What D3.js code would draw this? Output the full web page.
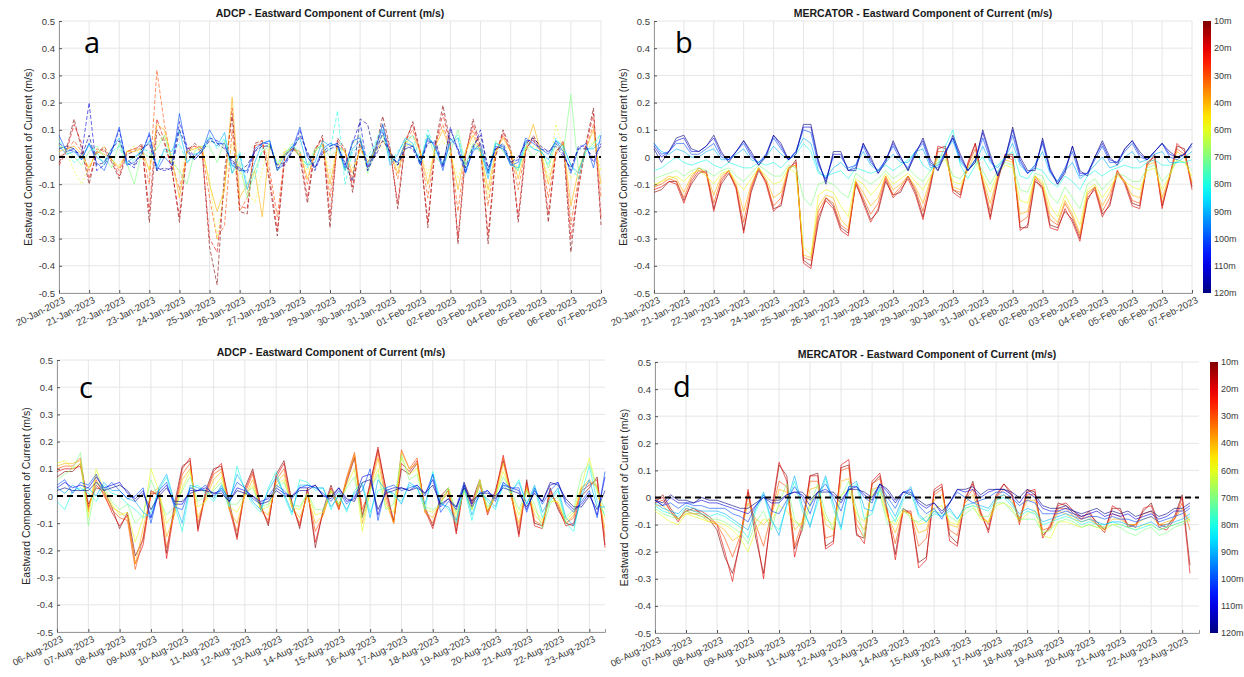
<!DOCTYPE html>
<html>
<head>
<meta charset="utf-8">
<script src="https://cdn.jsdelivr.net/npm/d3@7"></script>
<style>
  body { margin: 0; background: #fff; }
  text { font-family: "Liberation Sans", Arial, Helvetica, sans-serif; }
</style>
</head>
<body>
<svg id="chart" width="1244" height="677"></svg>
<script>
// depth of each series (10m at the top of the colour bar)
var depths = ["10m","20m","30m","40m","60m","70m","80m","90m","100m","110m","120m"];
var yTickValues = [-0.5,-0.4,-0.3,-0.2,-0.1,0,0.1,0.2,0.3,0.4,0.5];
var yTickLabels = ["-0.5","-0.4","-0.3","-0.2","-0.1","0","0.1","0.2","0.3","0.4","0.5"];

// 6-hourly samples, one row = one day
// ---- ADCP, January 2023 ----
var adcpJan10 = [-0.02,0.03,0.14,0.03,  -0.10,0.02,0.03,-0.02,  -0.08,0.01,0.02,0.05,  -0.24,0.10,0.05,-0.04,  -0.24,0.02,0.05,0.03,  -0.33,-0.47,-0.05,0.15,  -0.20,-0.21,0.05,0.06,  -0.10,-0.29,0.00,0.04,  0.00,-0.17,0.02,0.08,  -0.26,0.07,0.03,-0.13,  0.06,-0.05,0.02,0.15,  0.03,-0.19,0.05,0.13,  0.02,-0.26,0.05,0.19,  0.05,-0.32,0.00,0.14,  0.04,-0.32,0.00,0.10,  0.03,-0.24,0.02,0.08,  0.03,-0.24,0.02,0.05,  -0.35,-0.10,0.05,0.18,  -0.25];
var adcpJan20 = [-0.03,0.02,0.12,0.05,  -0.08,0.01,0.04,-0.01,  -0.07,0.02,0.03,0.04,  -0.20,0.14,0.06,-0.05,  -0.22,0.03,0.04,0.02,  -0.30,-0.35,-0.10,0.18,  -0.18,-0.19,0.04,0.05,  -0.08,-0.27,0.01,0.03,  0.01,-0.15,0.03,0.07,  -0.22,0.06,0.02,-0.11,  0.05,-0.04,0.03,0.12,  0.02,-0.17,0.06,0.12,  0.01,-0.24,0.04,0.16,  0.04,-0.30,0.01,0.12,  0.03,-0.29,0.01,0.09,  0.02,-0.22,0.03,0.07,  0.02,-0.21,0.01,0.06,  -0.30,-0.12,0.04,0.16,  -0.22];
var adcpJan30 = [0.00,0.02,0.06,0.02,  -0.05,0.03,0.02,-0.01,  -0.05,0.02,0.03,0.03,  -0.10,0.32,0.12,-0.02,  -0.12,0.02,0.04,0.03,  -0.15,-0.30,-0.25,0.10,  -0.20,-0.15,0.04,0.06,  -0.05,-0.22,0.01,0.03,  0.02,-0.10,0.03,0.06,  -0.15,0.05,0.02,-0.08,  0.04,-0.02,0.03,0.08,  0.02,-0.08,0.06,0.10,  0.02,-0.15,0.05,0.12,  0.03,-0.20,0.02,0.10,  0.02,-0.18,0.02,0.08,  0.02,-0.12,0.03,0.06,  0.02,-0.15,0.02,0.05,  -0.25,-0.08,0.03,0.12,  -0.15];
var adcpJan40 = [0.02,0.03,0.04,0.01,  -0.04,0.02,0.01,-0.01,  -0.04,0.02,0.02,0.03,  -0.05,0.12,0.10,-0.01,  -0.15,0.02,0.03,0.04,  -0.10,-0.20,-0.12,0.22,  -0.15,-0.10,-0.05,-0.22,  0.05,-0.05,0.02,0.03,  0.02,-0.08,0.02,0.05,  -0.10,0.04,0.02,-0.06,  0.03,-0.02,0.02,0.06,  0.02,-0.06,0.05,0.08,  0.02,-0.10,0.04,0.10,  0.02,-0.12,0.02,0.08,  0.02,-0.12,0.02,0.07,  0.02,-0.08,0.03,0.12,  0.02,-0.10,0.02,0.05,  -0.18,-0.05,0.03,0.10,  -0.10];
var adcpJan60 = [0.05,0.02,-0.05,-0.10,  -0.03,0.01,0.04,-0.01,  -0.03,0.02,0.04,0.00,  -0.04,0.05,0.08,0.00,  -0.06,0.02,0.03,0.02,  -0.08,-0.30,-0.10,0.05,  -0.05,-0.12,-0.17,-0.05,  0.05,-0.03,0.03,0.02,  0.01,-0.05,0.02,0.04,  -0.06,0.03,0.02,-0.04,  0.02,-0.01,0.02,0.04,  0.01,-0.04,0.04,0.05,  0.02,-0.06,0.03,0.06,  0.01,-0.08,0.02,0.06,  0.01,-0.15,0.02,0.05,  0.02,-0.05,0.03,0.04,  0.03,-0.08,0.12,0.03,  -0.08,-0.04,0.02,0.06,  -0.05];
var adcpJan70 = [0.04,0.03,0.00,-0.03,  0.02,0.04,0.00,-0.04,  0.05,-0.02,-0.10,0.02,  0.00,0.03,0.08,-0.02,  -0.05,-0.10,0.02,0.04,  0.04,-0.02,0.06,-0.06,  -0.02,-0.15,-0.05,0.02,  0.04,-0.02,0.01,0.05,  0.00,-0.03,0.03,0.04,  0.00,0.03,-0.05,0.05,  0.08,-0.06,0.03,0.08,  0.00,-0.02,0.06,0.04,  -0.02,0.08,0.00,-0.03,  0.02,0.10,-0.03,0.05,  0.03,-0.06,0.06,0.02,  -0.02,-0.05,0.04,0.00,  0.03,-0.04,0.05,0.02,  0.23,-0.05,0.02,0.05,  0.08];
var adcpJan80 = [0.06,0.02,-0.02,0.00,  0.04,0.02,-0.03,0.02,  0.04,-0.03,-0.01,0.03,  0.02,-0.03,0.02,0.01,  0.05,-0.02,0.00,0.03,  0.08,0.03,0.07,-0.04,  0.02,-0.10,-0.08,0.03,  0.05,-0.03,0.01,0.04,  0.02,-0.04,0.02,0.05,  0.02,0.17,-0.10,0.02,  0.04,0.00,0.05,0.12,  -0.02,0.02,0.06,0.08,  -0.02,0.10,0.02,-0.02,  0.06,0.08,-0.04,0.04,  0.02,-0.06,0.05,0.03,  -0.02,-0.05,0.05,0.03,  0.02,-0.03,0.07,0.03,  -0.03,-0.08,0.02,0.04,  0.09];
var adcpJan90 = [0.04,0.01,0.02,-0.01,  0.05,0.00,-0.02,0.03,  0.07,-0.02,0.00,0.02,  0.06,-0.04,0.03,0.02,  0.10,-0.02,0.01,0.02,  0.07,0.04,0.09,-0.06,  0.01,-0.12,-0.02,0.05,  0.06,-0.05,0.00,0.04,  0.07,-0.03,-0.02,0.06,  0.04,0.05,-0.05,0.03,  0.06,-0.03,0.04,0.10,  -0.03,0.01,0.07,0.05,  -0.03,0.08,0.03,-0.03,  0.05,0.07,-0.06,0.03,  0.03,-0.08,0.05,0.04,  -0.03,-0.04,0.06,0.03,  0.02,-0.01,0.06,0.04,  -0.03,-0.06,0.03,0.03,  0.06];
var adcpJan100 = [0.08,0.02,0.03,-0.01,  0.05,-0.02,-0.05,0.02,  0.11,-0.03,-0.02,0.01,  0.09,-0.05,0.00,-0.03,  0.16,0.02,-0.01,0.02,  0.10,0.05,0.05,-0.03,  -0.05,-0.05,0.03,0.05,  0.06,-0.05,-0.02,0.03,  0.11,0.00,-0.04,0.03,  0.05,0.04,-0.04,0.06,  0.07,-0.04,0.02,0.12,  0.00,-0.02,0.05,0.04,  -0.02,0.07,0.04,-0.05,  0.07,0.03,-0.05,0.02,  0.05,-0.06,0.04,0.03,  -0.03,-0.02,0.07,0.05,  0.03,0.01,0.06,0.02,  -0.06,0.03,0.05,-0.04,  0.08];
var adcpJan110 = [0.05,0.03,0.02,0.01,  0.20,-0.05,-0.03,0.02,  0.10,-0.02,-0.04,0.02,  0.08,-0.04,-0.05,-0.04,  0.13,0.04,0.00,0.03,  0.07,0.06,0.04,-0.02,  -0.04,-0.06,0.02,0.05,  0.05,-0.04,-0.03,0.02,  0.10,0.01,-0.05,0.02,  0.04,0.05,-0.03,0.05,  0.13,-0.05,0.01,0.09,  0.01,-0.03,0.04,0.03,  -0.03,0.06,0.05,-0.04,  0.11,0.02,-0.06,0.03,  0.10,-0.05,0.03,0.05,  -0.02,-0.01,0.06,0.06,  0.03,0.02,0.05,0.01,  -0.05,0.04,0.04,-0.02,  0.05];
var adcpJan120 = [0.03,0.04,0.03,0.00,  0.08,-0.03,-0.02,0.03,  0.06,-0.01,-0.03,0.03,  0.05,-0.05,-0.04,-0.05,  0.10,0.03,-0.01,0.02,  0.06,0.05,0.03,-0.01,  -0.05,-0.03,0.02,0.04,  0.04,-0.03,-0.02,0.02,  0.08,0.02,-0.04,0.01,  0.03,0.04,-0.02,-0.09,  0.14,0.12,0.00,0.06,  0.02,-0.03,0.03,0.04,  -0.02,0.05,0.06,-0.03,  0.10,0.03,-0.04,0.04,  0.08,-0.04,0.03,0.04,  -0.02,0.00,0.05,0.07,  0.04,0.02,0.04,0.00,  -0.04,0.03,0.03,0.00,  0.04];

// ---- MERCATOR, January 2023 ----
var merJan10 = [-0.13,-0.12,-0.09,-0.09,  -0.16,-0.10,-0.06,-0.05,  -0.19,-0.10,-0.06,-0.11,  -0.27,-0.13,-0.05,-0.09,  -0.19,-0.18,-0.05,-0.01,  -0.38,-0.40,-0.24,-0.15,  -0.18,-0.26,-0.28,-0.10,  -0.16,-0.23,-0.20,-0.09,  -0.14,-0.13,-0.07,-0.13,  -0.22,-0.11,0.03,0.04,  -0.12,-0.14,-0.03,0.05,  -0.09,-0.22,-0.09,0.01,  0.01,-0.26,-0.26,-0.09,  -0.11,-0.25,-0.26,-0.20,  -0.23,-0.30,-0.16,-0.11,  -0.21,-0.18,-0.06,-0.09,  -0.17,-0.18,-0.03,0.01,  -0.18,-0.08,0.04,0.03,  -0.11];
var merJan20 = [-0.12,-0.11,-0.09,-0.10,  -0.17,-0.09,-0.05,-0.06,  -0.20,-0.09,-0.05,-0.12,  -0.28,-0.12,-0.04,-0.10,  -0.20,-0.17,-0.04,-0.02,  -0.39,-0.41,-0.22,-0.16,  -0.19,-0.27,-0.29,-0.09,  -0.17,-0.24,-0.19,-0.08,  -0.15,-0.12,-0.08,-0.14,  -0.23,-0.10,0.04,0.03,  -0.13,-0.15,-0.02,0.05,  -0.10,-0.23,-0.08,0.01,  0.00,-0.27,-0.25,-0.08,  -0.12,-0.26,-0.27,-0.19,  -0.24,-0.31,-0.15,-0.12,  -0.22,-0.17,-0.05,-0.10,  -0.18,-0.19,-0.02,0.00,  -0.19,-0.07,0.05,0.02,  -0.12];
var merJan30 = [-0.11,-0.10,-0.08,-0.09,  -0.15,-0.08,-0.04,-0.06,  -0.17,-0.08,-0.05,-0.11,  -0.24,-0.11,-0.04,-0.09,  -0.18,-0.15,-0.04,-0.03,  -0.37,-0.38,-0.20,-0.15,  -0.17,-0.25,-0.27,-0.09,  -0.15,-0.21,-0.17,-0.07,  -0.14,-0.11,-0.07,-0.12,  -0.20,-0.09,0.02,0.02,  -0.12,-0.13,-0.03,0.03,  -0.09,-0.20,-0.07,0.00,  -0.01,-0.24,-0.22,-0.07,  -0.11,-0.23,-0.25,-0.17,  -0.22,-0.29,-0.14,-0.11,  -0.20,-0.15,-0.05,-0.09,  -0.16,-0.17,-0.02,-0.01,  -0.17,-0.07,0.03,0.01,  -0.10];
var merJan40 = [-0.11,-0.09,-0.07,-0.08,  -0.13,-0.07,-0.04,-0.06,  -0.14,-0.07,-0.05,-0.10,  -0.20,-0.10,-0.04,-0.08,  -0.15,-0.13,-0.04,-0.03,  -0.36,-0.37,-0.18,-0.14,  -0.15,-0.23,-0.26,-0.09,  -0.13,-0.18,-0.15,-0.07,  -0.12,-0.10,-0.07,-0.11,  -0.17,-0.08,0.00,0.01,  -0.11,-0.12,-0.04,0.01,  -0.08,-0.17,-0.07,-0.01,  -0.02,-0.21,-0.20,-0.07,  -0.10,-0.21,-0.24,-0.16,  -0.21,-0.28,-0.13,-0.11,  -0.18,-0.13,-0.06,-0.09,  -0.14,-0.15,-0.03,-0.02,  -0.15,-0.07,0.02,0.00,  -0.09];
var merJan60 = [-0.10,-0.09,-0.08,-0.07,  -0.09,-0.06,-0.05,-0.07,  -0.10,-0.06,-0.05,-0.09,  -0.12,-0.08,-0.04,-0.07,  -0.10,-0.09,-0.04,-0.06,  -0.33,-0.36,-0.14,-0.12,  -0.13,-0.18,-0.22,-0.08,  -0.10,-0.14,-0.11,-0.06,  -0.10,-0.08,-0.06,-0.09,  -0.12,-0.07,-0.02,-0.01,  -0.09,-0.10,-0.05,-0.02,  -0.07,-0.13,-0.06,-0.03,  -0.04,-0.16,-0.17,-0.07,  -0.09,-0.18,-0.22,-0.14,  -0.19,-0.25,-0.12,-0.10,  -0.15,-0.11,-0.07,-0.09,  -0.11,-0.12,-0.05,-0.04,  -0.12,-0.07,-0.01,-0.02,  -0.07];
var merJan70 = [-0.08,-0.07,-0.06,-0.05,  -0.07,-0.05,-0.04,-0.05,  -0.07,-0.05,-0.04,-0.07,  -0.09,-0.06,-0.03,-0.05,  -0.07,-0.07,-0.03,-0.04,  -0.15,-0.18,-0.10,-0.09,  -0.10,-0.13,-0.15,-0.06,  -0.08,-0.10,-0.08,-0.05,  -0.08,-0.06,-0.04,-0.07,  -0.09,-0.05,0.00,0.00,  -0.07,-0.08,-0.04,-0.01,  -0.05,-0.10,-0.05,-0.02,  -0.03,-0.12,-0.13,-0.06,  -0.07,-0.14,-0.17,-0.11,  -0.15,-0.19,-0.10,-0.08,  -0.12,-0.09,-0.06,-0.07,  -0.09,-0.09,-0.04,-0.03,  -0.09,-0.06,-0.01,-0.02,  -0.05];
var merJan80 = [-0.05,-0.04,-0.02,0.00,  -0.02,-0.03,-0.02,-0.01,  -0.03,-0.04,-0.02,-0.03,  -0.04,-0.04,-0.02,-0.03,  -0.02,-0.04,-0.01,0.01,  0.05,0.02,-0.06,-0.07,  -0.06,-0.05,-0.08,-0.04,  -0.05,-0.06,-0.05,-0.03,  -0.05,-0.03,-0.01,0.02,  -0.03,-0.05,-0.02,0.04,  0.10,-0.03,-0.08,-0.03,  0.00,-0.05,-0.03,0.00,  0.02,-0.07,-0.08,-0.04,  -0.05,-0.09,-0.11,-0.07,  -0.09,-0.12,-0.07,-0.05,  -0.07,-0.05,-0.04,-0.03,  -0.04,-0.04,-0.02,-0.01,  -0.03,-0.03,-0.02,-0.02,  -0.01];
var merJan90 = [0.05,0.02,0.01,0.03,  0.02,0.00,0.00,0.02,  0.03,-0.01,-0.01,0.01,  0.03,-0.01,-0.02,0.00,  0.04,0.01,-0.01,0.02,  0.07,0.05,-0.05,-0.08,  -0.04,-0.02,-0.05,-0.03,  0.02,-0.03,-0.05,-0.02,  0.01,-0.02,-0.02,0.02,  0.03,-0.04,-0.03,0.02,  0.06,-0.02,-0.05,-0.02,  0.04,-0.02,-0.04,0.00,  0.05,-0.03,-0.06,-0.03,  0.02,-0.06,-0.09,-0.05,  -0.02,-0.08,-0.06,-0.03,  0.00,-0.04,-0.03,0.00,  0.02,-0.02,-0.01,0.01,  0.02,-0.02,-0.02,0.00,  0.02];
var merJan100 = [0.05,0.01,0.02,0.05,  0.05,0.01,0.01,0.03,  0.05,0.00,-0.01,0.02,  0.05,0.00,-0.02,0.01,  0.07,0.03,-0.01,0.02,  0.10,0.09,-0.03,-0.08,  0.00,0.00,-0.04,-0.03,  0.04,-0.02,-0.05,-0.01,  0.04,-0.01,-0.04,0.02,  0.05,-0.03,-0.04,0.02,  0.07,-0.01,-0.05,-0.01,  0.07,-0.01,-0.06,0.00,  0.08,-0.02,-0.06,-0.03,  0.05,-0.05,-0.09,-0.04,  0.02,-0.07,-0.06,-0.01,  0.04,-0.02,-0.02,0.02,  0.05,0.00,-0.01,0.02,  0.05,0.00,-0.01,0.01,  0.04];
var merJan110 = [0.04,0.00,0.02,0.06,  0.07,0.02,0.02,0.04,  0.07,0.01,-0.01,0.02,  0.06,0.01,-0.03,0.01,  0.08,0.04,-0.01,0.02,  0.11,0.11,-0.02,-0.09,  0.01,0.01,-0.05,-0.04,  0.05,-0.01,-0.06,-0.01,  0.05,0.00,-0.05,0.02,  0.06,-0.02,-0.05,0.02,  0.07,0.00,-0.05,-0.01,  0.09,0.00,-0.07,0.00,  0.10,-0.01,-0.06,-0.04,  0.06,-0.05,-0.10,-0.05,  0.04,-0.06,-0.06,0.00,  0.05,-0.01,-0.02,0.03,  0.06,0.01,-0.01,0.02,  0.05,0.01,0.00,0.01,  0.05];
var merJan120 = [0.03,-0.02,0.02,0.07,  0.08,0.03,0.02,0.04,  0.08,0.02,-0.02,0.02,  0.06,0.02,-0.03,0.00,  0.08,0.05,-0.01,0.01,  0.12,0.12,-0.01,-0.10,  0.02,0.02,-0.05,-0.05,  0.05,0.00,-0.06,-0.02,  0.06,0.00,-0.05,0.01,  0.07,-0.01,-0.05,0.01,  0.08,0.01,-0.05,-0.02,  0.10,0.01,-0.07,-0.01,  0.11,0.00,-0.05,-0.05,  0.07,-0.04,-0.10,-0.06,  0.04,-0.05,-0.07,0.00,  0.06,0.00,-0.03,0.03,  0.06,0.02,-0.01,0.02,  0.05,0.02,0.00,0.01,  0.05];

// ---- ADCP, August 2023 ----
var adcpAug10 = [0.07,0.09,0.09,0.12,  -0.03,0.03,0.02,-0.04,  -0.12,-0.06,-0.22,-0.16,  0.02,0.00,-0.21,-0.03,  0.11,0.13,-0.12,0.02,  0.10,0.11,-0.02,-0.15,  0.03,0.10,-0.03,-0.11,  0.08,0.13,-0.02,-0.12,  0.03,-0.19,-0.05,0.04,  -0.04,0.05,0.14,-0.08,  0.05,0.17,0.03,-0.09,  0.10,0.08,0.12,-0.04,  -0.11,0.00,0.03,-0.13,  0.05,-0.02,0.06,-0.06,  0.02,0.13,0.02,-0.14,  0.06,-0.10,-0.11,0.03,  -0.05,-0.10,-0.11,0.00,  0.03,0.07,-0.18];
var adcpAug20 = [0.09,0.10,0.10,0.11,  -0.04,0.04,0.01,-0.06,  -0.11,-0.07,-0.25,-0.18,  0.01,0.01,-0.23,-0.05,  0.10,0.14,-0.13,0.01,  0.09,0.12,-0.04,-0.16,  0.02,0.09,-0.04,-0.10,  0.07,0.12,-0.03,-0.11,  0.02,-0.17,-0.06,0.03,  -0.05,0.06,0.15,-0.07,  0.04,0.18,0.02,-0.10,  0.12,0.09,0.13,-0.05,  -0.12,-0.01,0.02,-0.14,  0.04,-0.03,0.05,-0.07,  0.01,0.15,0.01,-0.15,  0.05,-0.11,-0.12,0.02,  -0.04,-0.11,-0.10,0.02,  0.04,0.06,-0.19];
var adcpAug30 = [0.10,0.11,0.11,0.14,  -0.05,0.06,0.00,-0.05,  -0.08,-0.09,-0.27,-0.15,  0.00,0.02,-0.19,-0.06,  0.08,0.12,-0.10,0.00,  0.08,0.10,-0.05,-0.13,  0.01,0.08,-0.05,-0.09,  0.06,0.10,-0.04,-0.10,  0.01,-0.13,-0.07,0.02,  -0.05,0.07,0.16,-0.05,  0.03,0.16,0.00,-0.10,  0.17,0.10,0.14,-0.06,  -0.10,-0.02,0.01,-0.11,  0.03,-0.04,0.04,-0.06,  0.00,0.14,0.00,-0.12,  0.04,-0.09,-0.11,0.01,  -0.03,-0.10,-0.08,0.03,  0.05,0.04,-0.15];
var adcpAug40 = [0.11,0.12,0.12,0.13,  -0.06,0.08,0.01,-0.04,  -0.06,-0.08,-0.25,-0.12,  0.01,0.03,-0.15,-0.07,  0.06,0.10,-0.08,-0.01,  0.06,0.09,-0.05,-0.10,  0.00,0.06,-0.05,-0.07,  0.05,0.08,-0.04,-0.08,  0.00,-0.10,-0.07,0.02,  -0.04,0.06,0.15,-0.10,  0.02,0.14,-0.02,-0.10,  0.16,0.10,0.12,-0.06,  -0.08,-0.02,0.02,-0.09,  0.02,-0.05,0.05,-0.06,  0.00,0.12,0.00,-0.10,  0.03,-0.07,-0.10,0.00,  -0.03,-0.10,-0.07,0.03,  0.06,0.03,-0.12];
var adcpAug60 = [0.12,0.13,0.10,0.12,  -0.08,0.10,0.02,-0.03,  -0.07,-0.06,-0.17,-0.08,  0.10,0.02,-0.10,-0.06,  0.03,0.09,-0.04,-0.02,  0.03,0.07,-0.04,-0.06,  0.00,0.04,-0.05,-0.04,  0.04,0.06,-0.04,-0.05,  0.01,-0.07,-0.06,0.02,  -0.03,0.04,0.10,-0.13,  0.02,0.10,-0.04,-0.06,  0.14,0.08,0.10,-0.05,  -0.06,-0.03,0.03,-0.07,  0.02,-0.05,0.06,-0.05,  0.00,0.09,0.01,-0.07,  0.02,-0.05,-0.09,-0.02,  -0.02,-0.09,-0.06,0.04,  0.14,0.02,-0.08];
var adcpAug70 = [0.06,0.08,0.10,0.16,  -0.11,0.05,0.03,-0.02,  -0.05,-0.03,-0.10,-0.07,  0.06,-0.01,-0.07,-0.04,  0.02,0.07,-0.02,0.00,  0.02,0.05,-0.03,-0.03,  0.01,0.03,-0.04,-0.03,  0.03,0.05,-0.03,-0.04,  0.01,-0.05,-0.05,0.02,  -0.03,0.03,0.07,-0.08,  0.02,0.08,-0.05,-0.03,  0.15,0.06,0.08,-0.04,  -0.05,-0.03,0.03,-0.06,  0.02,-0.05,0.05,-0.04,  0.00,0.07,0.02,-0.05,  0.02,-0.03,-0.12,-0.03,  0.00,-0.08,-0.05,0.08,  0.12,0.02,-0.05];
var adcpAug80 = [-0.02,-0.05,0.02,0.03,  0.01,-0.02,0.04,0.01,  0.00,-0.03,-0.05,-0.08,  -0.06,0.02,0.07,-0.03,  -0.13,0.03,0.04,0.01,  -0.02,0.03,-0.04,0.11,  0.02,-0.03,-0.06,0.03,  0.09,0.00,-0.07,0.06,  0.05,0.02,0.03,-0.05,  0.01,-0.06,0.02,0.05,  -0.06,0.02,0.03,0.00,  -0.02,0.04,0.03,-0.05,  0.09,-0.02,-0.05,-0.10,  0.03,-0.09,0.02,-0.02,  -0.05,0.04,0.01,0.06,  -0.03,0.03,-0.08,-0.02,  0.02,-0.10,-0.13,0.01,  0.11,-0.02,-0.07];
var adcpAug90 = [0.03,0.01,0.04,0.02,  0.03,0.00,0.05,0.02,  0.02,-0.01,-0.02,-0.06,  -0.08,0.03,0.08,-0.02,  -0.10,0.04,0.03,0.02,  -0.01,0.04,-0.02,0.08,  0.03,-0.02,-0.05,0.02,  0.07,0.01,-0.06,0.04,  0.04,0.03,0.03,-0.04,  0.00,-0.05,0.01,0.04,  -0.08,0.06,0.02,0.01,  -0.03,0.05,0.03,-0.03,  0.08,-0.03,-0.04,-0.09,  0.04,-0.07,0.01,-0.01,  -0.04,0.05,0.02,0.05,  -0.03,0.04,-0.06,-0.01,  0.03,-0.08,-0.11,0.00,  0.06,-0.04,-0.04];
var adcpAug100 = [0.04,0.06,0.01,0.05,  0.04,0.08,0.02,0.05,  0.02,-0.01,0.00,0.03,  -0.10,0.02,0.05,-0.04,  -0.05,0.03,0.02,0.04,  0.00,0.03,-0.01,0.05,  0.03,-0.01,-0.03,0.00,  0.04,0.02,-0.01,0.03,  0.04,0.03,0.01,-0.02,  0.02,-0.03,0.00,0.02,  0.10,-0.09,0.03,0.04,  0.02,0.03,0.04,0.00,  0.08,-0.06,-0.02,-0.04,  0.05,-0.04,0.00,0.02,  -0.02,0.05,0.03,0.03,  -0.06,0.03,-0.03,0.02,  0.05,-0.03,-0.06,-0.02,  0.02,-0.08,0.09];
var adcpAug110 = [0.03,0.05,0.03,0.04,  0.03,0.07,0.03,0.04,  0.05,0.01,-0.01,0.02,  -0.08,0.01,0.04,-0.03,  -0.03,0.02,0.02,0.03,  0.01,0.02,-0.02,0.03,  0.02,0.00,-0.02,-0.01,  0.03,0.01,0.00,0.03,  0.03,0.04,0.00,-0.01,  0.03,-0.02,-0.01,0.07,  0.08,-0.07,0.02,0.03,  0.03,0.02,0.04,0.01,  0.06,-0.04,-0.01,-0.05,  0.04,-0.03,0.01,0.02,  -0.01,0.04,0.03,0.02,  -0.05,0.02,-0.02,0.04,  0.05,-0.02,-0.05,-0.03,  0.01,-0.07,0.07];
var adcpAug120 = [0.02,0.03,0.02,0.02,  0.02,0.05,0.02,0.03,  0.04,0.02,-0.02,0.01,  -0.05,0.00,0.03,-0.02,  -0.02,0.01,0.02,0.02,  0.01,0.01,-0.02,0.02,  0.01,0.00,-0.03,-0.02,  0.02,0.00,0.00,0.02,  0.02,0.04,0.00,0.00,  0.03,-0.01,-0.02,0.05,  0.06,-0.05,0.01,0.02,  0.03,0.02,0.03,0.01,  0.04,-0.03,-0.01,-0.04,  0.03,-0.02,0.01,0.01,  0.00,0.03,0.02,0.01,  -0.04,0.01,-0.02,0.05,  0.04,-0.01,-0.04,-0.04,  0.00,-0.05,0.02];

// ---- MERCATOR, August 2023 ----
var merAug10 = [-0.02,0.01,-0.04,-0.08,  -0.05,-0.04,-0.06,-0.08,  -0.12,-0.22,-0.28,-0.17,  0.02,-0.15,-0.28,-0.07,  0.12,0.08,-0.19,-0.12,  0.08,0.09,-0.18,-0.16,  0.11,0.12,-0.14,-0.15,  0.05,0.08,-0.06,-0.21,  -0.04,-0.06,-0.24,-0.22,  0.02,0.04,-0.14,-0.17,  -0.01,0.06,-0.06,-0.12,  0.01,0.05,0.01,-0.09,  0.03,0.02,-0.14,-0.11,  -0.02,-0.03,-0.06,-0.07,  -0.06,-0.09,-0.12,-0.04,  -0.04,-0.11,-0.10,-0.05,  -0.02,-0.10,-0.11,-0.07,  0.01,-0.25];
var merAug20 = [-0.01,0.00,-0.05,-0.09,  -0.04,-0.05,-0.05,-0.07,  -0.10,-0.20,-0.31,-0.15,  0.03,-0.12,-0.30,-0.05,  0.13,0.06,-0.22,-0.10,  0.08,0.08,-0.19,-0.17,  0.12,0.14,-0.13,-0.17,  0.06,0.09,-0.05,-0.23,  -0.05,-0.05,-0.26,-0.23,  0.03,0.05,-0.16,-0.18,  0.00,0.05,-0.05,-0.13,  0.00,0.05,0.02,-0.10,  0.02,0.03,-0.15,-0.10,  -0.03,-0.02,-0.05,-0.08,  -0.05,-0.10,-0.13,-0.03,  -0.05,-0.10,-0.11,-0.04,  -0.03,-0.11,-0.12,-0.08,  0.00,-0.28];
var merAug30 = [-0.02,-0.01,-0.05,-0.08,  -0.05,-0.06,-0.06,-0.08,  -0.10,-0.15,-0.22,-0.14,  0.01,-0.10,-0.18,-0.06,  0.06,0.04,-0.18,-0.09,  0.06,0.06,-0.15,-0.14,  0.10,0.11,-0.10,-0.15,  0.05,0.07,-0.06,-0.17,  -0.05,-0.06,-0.18,-0.15,  0.01,0.03,-0.12,-0.14,  -0.01,0.03,-0.06,-0.10,  0.00,0.03,0.01,-0.08,  0.01,0.01,-0.12,-0.11,  -0.04,-0.04,-0.07,-0.08,  -0.07,-0.10,-0.12,-0.06,  -0.07,-0.10,-0.10,-0.06,  -0.05,-0.10,-0.10,-0.08,  -0.02,-0.12];
var merAug40 = [-0.03,-0.03,-0.06,-0.08,  -0.06,-0.06,-0.07,-0.09,  -0.10,-0.12,-0.16,-0.14,  -0.02,-0.08,-0.10,-0.07,  0.03,0.02,-0.12,-0.09,  0.03,0.04,-0.10,-0.12,  0.06,0.07,-0.08,-0.12,  0.03,0.04,-0.07,-0.13,  -0.05,-0.06,-0.13,-0.12,  -0.01,0.01,-0.10,-0.11,  -0.02,0.01,-0.07,-0.09,  -0.01,0.01,-0.01,-0.08,  -0.01,-0.01,-0.13,-0.12,  -0.05,-0.06,-0.08,-0.09,  -0.08,-0.10,-0.11,-0.08,  -0.08,-0.10,-0.10,-0.08,  -0.07,-0.10,-0.09,-0.08,  -0.04,-0.09];
var merAug60 = [-0.05,-0.07,-0.09,-0.10,  -0.06,-0.07,-0.08,-0.09,  -0.09,-0.10,-0.12,-0.15,  -0.20,-0.12,-0.08,-0.09,  -0.03,-0.05,-0.09,-0.10,  -0.02,0.02,-0.08,-0.10,  0.01,0.03,-0.06,-0.09,  0.01,0.02,-0.08,-0.10,  -0.05,-0.07,-0.10,-0.09,  -0.04,-0.03,-0.09,-0.10,  -0.04,-0.03,-0.08,-0.09,  -0.03,-0.02,-0.04,-0.09,  -0.06,-0.05,-0.14,-0.15,  -0.09,-0.09,-0.10,-0.11,  -0.10,-0.11,-0.12,-0.10,  -0.10,-0.11,-0.12,-0.10,  -0.10,-0.12,-0.11,-0.10,  -0.09,-0.08];
var merAug70 = [-0.04,-0.06,-0.07,-0.08,  -0.05,-0.06,-0.07,-0.08,  -0.08,-0.09,-0.11,-0.13,  -0.17,-0.09,-0.05,-0.12,  -0.02,0.05,-0.08,-0.12,  -0.03,0.05,-0.06,-0.12,  0.00,0.06,-0.04,-0.15,  0.03,0.01,-0.10,-0.08,  -0.04,-0.08,-0.09,-0.07,  -0.05,-0.06,-0.07,-0.09,  -0.06,-0.04,-0.07,-0.07,  -0.02,-0.02,-0.05,-0.08,  -0.08,-0.08,-0.13,-0.12,  -0.09,-0.08,-0.09,-0.11,  -0.10,-0.11,-0.11,-0.10,  -0.11,-0.13,-0.14,-0.12,  -0.11,-0.14,-0.13,-0.11,  -0.10,-0.08];
var merAug80 = [-0.03,-0.05,-0.06,-0.07,  -0.04,-0.05,-0.06,-0.07,  -0.06,-0.07,-0.09,-0.11,  -0.15,-0.05,0.01,-0.09,  -0.12,-0.03,0.06,-0.05,  -0.10,-0.02,0.07,-0.04,  -0.12,0.03,0.05,-0.08,  -0.06,0.03,-0.04,-0.09,  -0.01,0.02,-0.07,-0.09,  -0.06,-0.07,-0.05,-0.08,  -0.04,-0.03,-0.04,-0.05,  -0.01,0.00,-0.03,-0.07,  -0.05,-0.06,-0.10,-0.09,  -0.08,-0.07,-0.08,-0.10,  -0.09,-0.10,-0.10,-0.09,  -0.10,-0.11,-0.12,-0.11,  -0.10,-0.12,-0.11,-0.10,  -0.09,-0.07];
var merAug90 = [-0.02,-0.04,-0.05,-0.06,  -0.03,-0.04,-0.05,-0.05,  -0.05,-0.06,-0.08,-0.10,  -0.12,-0.04,0.02,-0.08,  -0.14,-0.02,0.08,-0.03,  -0.11,0.00,0.08,-0.02,  -0.11,0.04,0.06,-0.04,  -0.05,0.04,-0.02,-0.07,  0.00,0.04,-0.06,-0.09,  -0.05,-0.07,-0.04,-0.08,  -0.03,-0.02,-0.03,-0.04,  0.00,0.01,-0.02,-0.06,  -0.04,-0.05,-0.09,-0.08,  -0.07,-0.06,-0.07,-0.09,  -0.08,-0.09,-0.10,-0.09,  -0.09,-0.10,-0.11,-0.10,  -0.09,-0.11,-0.10,-0.09,  -0.08,-0.06];
var merAug100 = [-0.01,-0.03,-0.02,-0.04,  -0.02,-0.03,-0.03,-0.04,  -0.04,-0.04,-0.06,-0.07,  -0.09,-0.03,0.01,-0.05,  -0.06,-0.01,0.04,0.00,  -0.06,0.02,0.05,0.00,  -0.05,0.04,0.04,0.00,  -0.02,0.05,0.00,-0.04,  0.02,0.03,-0.03,-0.06,  -0.04,-0.08,-0.02,0.02,  0.00,-0.02,-0.01,0.00,  0.02,0.02,0.00,-0.03,  -0.01,-0.02,-0.06,-0.06,  -0.06,-0.05,-0.06,-0.08,  -0.07,-0.07,-0.08,-0.07,  -0.08,-0.08,-0.09,-0.08,  -0.07,-0.09,-0.08,-0.07,  -0.06,-0.04];
var merAug110 = [-0.01,-0.03,0.00,-0.02,  -0.02,-0.02,-0.01,-0.02,  -0.02,-0.03,-0.04,-0.05,  -0.06,-0.03,0.00,-0.02,  -0.02,0.01,0.02,0.01,  -0.03,0.02,0.03,0.01,  -0.02,0.03,0.04,0.01,  -0.01,0.05,0.02,-0.02,  0.02,0.02,-0.02,-0.04,  -0.02,-0.06,-0.02,0.03,  0.02,0.03,0.00,0.02,  0.03,0.03,0.01,-0.02,  0.02,0.00,-0.04,-0.05,  -0.05,-0.04,-0.05,-0.07,  -0.06,-0.05,-0.07,-0.06,  -0.07,-0.06,-0.08,-0.07,  -0.06,-0.08,-0.07,-0.05,  -0.05,-0.03];
var merAug120 = [-0.01,-0.02,0.01,-0.01,  -0.01,-0.02,0.00,-0.01,  -0.01,-0.02,-0.03,-0.04,  -0.04,-0.02,0.00,-0.01,  -0.01,0.01,0.02,0.02,  -0.01,0.02,0.02,0.02,  -0.01,0.03,0.03,0.02,  0.00,0.05,0.03,-0.01,  0.02,0.01,-0.01,-0.03,  -0.02,-0.05,-0.02,0.03,  0.03,0.04,0.01,0.03,  0.03,0.03,0.02,0.00,  0.03,0.01,-0.03,-0.04,  -0.04,-0.03,-0.05,-0.06,  -0.05,-0.04,-0.06,-0.05,  -0.06,-0.05,-0.07,-0.06,  -0.05,-0.07,-0.06,-0.04,  -0.04,-0.02];

var adcpJan = [adcpJan10, adcpJan20, adcpJan30, adcpJan40, adcpJan60, adcpJan70, adcpJan80, adcpJan90, adcpJan100, adcpJan110, adcpJan120];
var merJan = [merJan10, merJan20, merJan30, merJan40, merJan60, merJan70, merJan80, merJan90, merJan100, merJan110, merJan120];
var adcpAug = [adcpAug10, adcpAug20, adcpAug30, adcpAug40, adcpAug60, adcpAug70, adcpAug80, adcpAug90, adcpAug100, adcpAug110, adcpAug120];
var merAug = [merAug10, merAug20, merAug30, merAug40, merAug60, merAug70, merAug80, merAug90, merAug100, merAug110, merAug120];

// ADCP January lines mix dashed / dotted / solid
var adcpJanDash = ["4,2","4,2","4,2",null,"2,2",null,"4,2",null,null,"4,2","4,2"];

var ylabelText = "Eastward Component of Current (m/s)";

var panels = [
  {letter:"a", title:"ADCP - Eastward Component of Current (m/s)", series:adcpJan, dash:adcpJanDash,
   start:new Date(2023,0,20), end:new Date(2023,1,7), left:59, right:601, top:21, bottom:293,
   ylabX:32, letterPos:[84,53], colorbar:false},
  {letter:"b", title:"MERCATOR - Eastward Component of Current (m/s)", series:merJan, dash:null,
   start:new Date(2023,0,20), end:new Date(2023,1,7), left:654, right:1192, top:21, bottom:293,
   ylabX:627, letterPos:[675,53], colorbar:true},
  {letter:"c", title:"ADCP - Eastward Component of Current (m/s)", series:adcpAug, dash:null,
   start:new Date(2023,7,6), end:new Date(2023,7,23,12), left:57, right:605, top:360, bottom:632,
   ylabX:30, letterPos:[79,398], colorbar:false},
  {letter:"d", title:"MERCATOR - Eastward Component of Current (m/s)", series:merAug, dash:null,
   start:new Date(2023,7,6), end:new Date(2023,7,23,13), left:655, right:1199, top:362, bottom:633,
   ylabX:628, letterPos:[673,397], colorbar:true}
];

// MATLAB jet colormap, t in [0,1] (0 = dark blue, 1 = dark red)
function jet(t) {
  var c = function (v) { return Math.max(0, Math.min(1, v)); };
  return d3.rgb(255 * c(1.5 - Math.abs(4 * t - 3)), 255 * c(1.5 - Math.abs(4 * t - 2)), 255 * c(1.5 - Math.abs(4 * t - 1)));
}

var svg = d3.select("#chart");
svg.append("rect").attr("width", 1244).attr("height", 677).attr("fill", "#fff");

var grad = svg.append("defs").append("linearGradient").attr("id", "jetGrad")
  .attr("x1", 0).attr("y1", 0).attr("x2", 0).attr("y2", 1);
d3.range(0, 21).forEach(function (k) {
  grad.append("stop").attr("offset", k / 20).attr("stop-color", jet(1 - k / 20));
});

var fmt = d3.timeFormat("%d-%b-%Y");

panels.forEach(function (p) {
  var x = d3.scaleTime().domain([p.start, p.end]).range([p.left, p.right]);
  var y = d3.scaleLinear().domain([-0.5, 0.5]).range([p.bottom, p.top]);
  var g = svg.append("g");
  var days = x.ticks(d3.timeDay.every(1));

  // grid
  g.append("g").selectAll("line").data(days).enter().append("line")
    .attr("x1", function (d) { return x(d); }).attr("x2", function (d) { return x(d); })
    .attr("y1", p.top).attr("y2", p.bottom)
    .attr("stroke", "#e6e6e6").attr("stroke-width", 1);
  g.append("g").selectAll("line").data(yTickValues).enter().append("line")
    .attr("x1", p.left).attr("x2", p.right)
    .attr("y1", function (d) { return y(d); }).attr("y2", function (d) { return y(d); })
    .attr("stroke", "#e6e6e6").attr("stroke-width", 1);

  // axes
  var yAxis = g.append("g").attr("transform", "translate(" + p.left + ",0)")
    .call(d3.axisLeft(y).tickValues(yTickValues).tickSize(-3).tickPadding(4)
      .tickFormat(function (d, i) { return yTickLabels[i]; }));
  var xAxis = g.append("g").attr("transform", "translate(0," + p.bottom + ")")
    .call(d3.axisBottom(x).tickValues(days).tickSize(-3).tickFormat(fmt));
  [yAxis, xAxis].forEach(function (a) {
    a.select(".domain").attr("stroke", "#9a9a9a");
    a.selectAll(".tick line").attr("stroke", "#555");
    a.selectAll("text").attr("fill", "#3a3a3a").style("font-size", "9.5px")
      .style("font-family", '"Liberation Sans", Arial, sans-serif');
  });
  xAxis.selectAll("text").attr("x", 0).attr("y", 0).attr("dy", "0.72em")
    .attr("text-anchor", "end").attr("transform", "translate(3,3) rotate(-27)");

  // series
  var line = d3.line()
    .x(function (v, i) { return x(d3.timeHour.offset(p.start, 6 * i)); })
    .y(function (v) { return y(v); });
  p.series.forEach(function (s, k) {
    g.append("path").datum(s).attr("d", line)
      .attr("fill", "none")
      .attr("stroke", jet(1 - k / (p.series.length - 1)))
      .attr("stroke-width", 1)
      .attr("stroke-opacity", 0.6)
      .attr("stroke-linejoin", "round")
      .attr("stroke-dasharray", p.dash ? p.dash[k] : null);
  });

  // zero reference line
  g.append("line").attr("x1", p.left).attr("x2", p.right)
    .attr("y1", y(0)).attr("y2", y(0))
    .attr("stroke", "#000").attr("stroke-width", 1.8).attr("stroke-dasharray", "6,4");

  // title, y label, panel letter
  g.append("text").attr("x", (p.left + p.right) / 2).attr("y", p.top - 4)
    .attr("text-anchor", "middle").style("font-size", "10.5px").style("font-weight", "bold")
    .attr("fill", "#1a1a1a").text(p.title);
  g.append("text").attr("transform", "translate(" + p.ylabX + "," + (p.top + p.bottom) / 2 + ") rotate(-90)")
    .attr("text-anchor", "middle").style("font-size", "10.5px").attr("fill", "#262626").text(ylabelText);
  g.append("text").attr("x", p.letterPos[0]).attr("y", p.letterPos[1])
    .style("font-family", '"Open Sans", "Noto Sans", sans-serif').style("font-size", "29px")
    .attr("fill", "#000").text(p.letter);

  // colour bar
  if (p.colorbar) {
    var cb = svg.append("g");
    var cx = p.right + 11;
    cb.append("rect").attr("x", cx).attr("y", p.top).attr("width", 8).attr("height", p.bottom - p.top)
      .attr("fill", "url(#jetGrad)");
    var cy = d3.scalePoint().domain(depths).range([p.top, p.bottom]);
    cb.selectAll("text").data(depths).enter().append("text")
      .attr("x", cx + 11).attr("y", function (d) { return cy(d); }).attr("dy", "0.35em")
      .style("font-size", "9px").attr("fill", "#3a3a3a").text(function (d) { return d; });
  }
});
</script>
</body>
</html>
